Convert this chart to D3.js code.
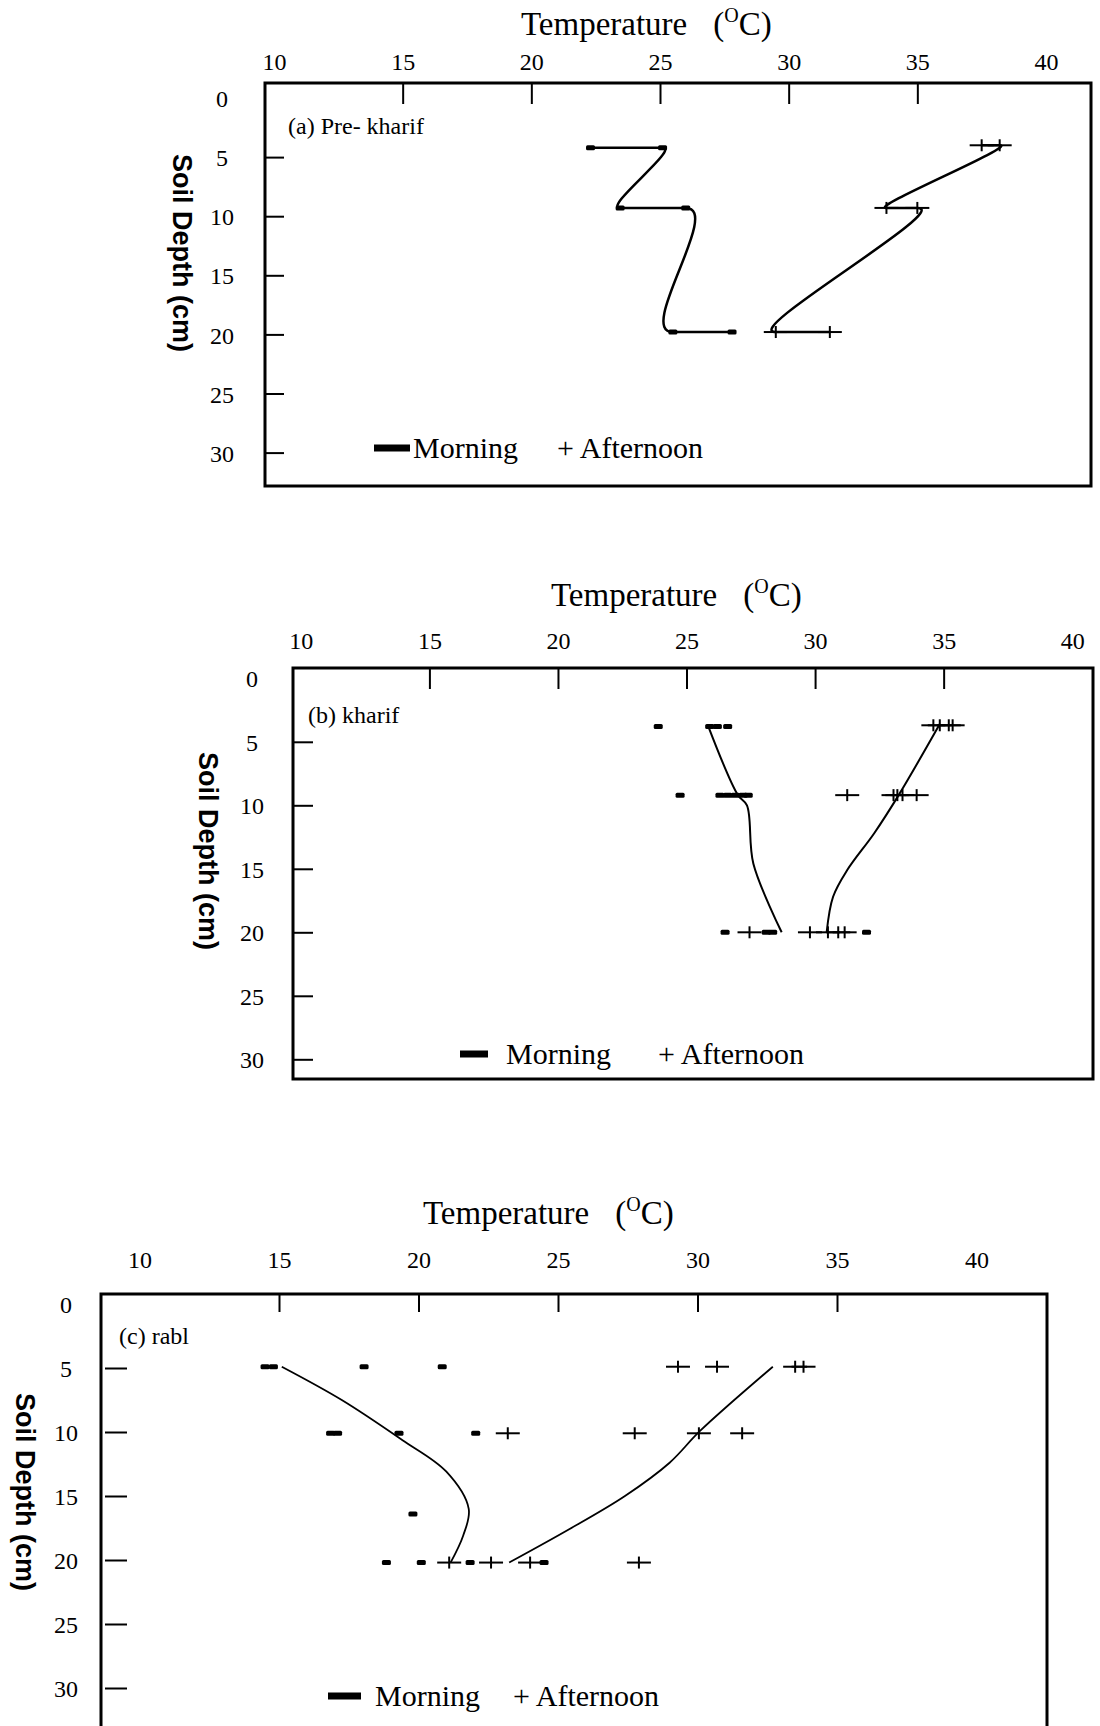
<!DOCTYPE html>
<html>
<head>
<meta charset="utf-8">
<script src="https://cdn.jsdelivr.net/npm/d3@7/dist/d3.min.js"></script>
<style>
  body { margin: 0; background: #fff; }
  svg { display: block; }
</style>
</head>
<body>
<svg id="chart" width="1100" height="1726"></svg>
<script>
const tempTicks = [10, 15, 20, 25, 30, 35, 40];
const depthTicks = [0, 5, 10, 15, 20, 25, 30];

// (a) Pre-kharif : [temperature, depth]; the curve runs through the points in this order
const preKharifMorning = [[22.3, 4.2], [25.1, 4.2], [23.45, 9.3], [26.0, 9.3], [25.5, 19.8], [27.8, 19.8]];
const preKharifAfternoon = [[37.5, 4.0], [38.2, 4.0], [33.8, 9.3], [35.0, 9.3], [29.5, 19.8], [31.6, 19.8]];

// (b) kharif
const kharifMorning = [
  [23.9, 3.8], [25.9, 3.8], [26.2, 3.8], [26.6, 3.8],
  [24.75, 9.2], [26.3, 9.2], [26.6, 9.2], [26.9, 9.2], [27.2, 9.2], [27.4, 9.2],
  [26.5, 20], [28.1, 20], [28.35, 20], [32.0, 20]
];
const kharifAfternoon = [
  [34.6, 3.7], [34.85, 3.7], [35.2, 3.7], [35.35, 3.7],
  [31.25, 9.2], [33.05, 9.2], [33.2, 9.2], [33.4, 9.2], [33.95, 9.2],
  [27.45, 20], [29.8, 20], [30.5, 20], [30.9, 20], [31.15, 20]
];
const kharifMorningLine = [[25.85, 3.8], [27.0, 9.2], [27.35, 10.0], [27.6, 14.6], [28.7, 20.0]];
const kharifAfternoonLine = [[34.85, 3.6], [33.25, 9.2], [32.3, 12.2], [31.25, 15.1], [30.7, 17.2], [30.45, 20.0]];

// (c) rabi
const rabiMorning = [
  [14.5, 4.9], [14.8, 4.9], [18.05, 4.9], [20.85, 4.9],
  [16.85, 10.1], [17.1, 10.1], [19.3, 10.1], [22.05, 10.1],
  [19.8, 16.4],
  [18.85, 20.2], [20.1, 20.2], [21.85, 20.2], [24.5, 20.2]
];
const rabiAfternoon = [
  [29.3, 4.9], [30.7, 4.9], [33.5, 4.9], [33.8, 4.9],
  [23.2, 10.1], [27.75, 10.1], [30.05, 10.1], [31.6, 10.1],
  [21.1, 20.2], [22.6, 20.2], [24.0, 20.2], [27.9, 20.2]
];
const rabiMorningLine = [[15.1, 4.9], [17.25, 7.5], [19.4, 10.6], [21.0, 13.1], [21.8, 16.0], [21.6, 18.1], [21.15, 20.2]];
const rabiAfternoonLine = [[32.7, 4.9], [30.1, 9.9], [29.0, 12.4], [27.4, 15.0], [25.4, 17.6], [23.25, 20.2]];

const serif = '"Liberation Serif", "Times New Roman", serif';
const sans = '"Liberation Sans", Arial, sans-serif';
const svg = d3.select('#chart');

const panels = [
  {
    label: '(a) Pre- kharif', labelX: 288, labelY: 134,
    box: [265, 83, 1091, 486], xr: [274, 1046], yr: [98, 452.6],
    titleX: 521, titleY: 35, topPad: 13, topTick: 21,
    leftGap: 0, leftTick: 19, leftLabelX: 222,
    ylabX: 173, ylabY: 253,
    legend: { markX: 374, markW: 36, y: 448, morningX: 413, afternoonX: 557 },
    morning: preKharifMorning, afternoon: preKharifAfternoon,
    morningLine: preKharifMorning, afternoonLine: preKharifAfternoon,
    stepped: true, lineW: 2.5
  },
  {
    label: '(b) kharif', labelX: 308, labelY: 723,
    box: [293, 668, 1093, 1079], xr: [300.85, 1072.2], yr: [678.3, 1059.3],
    titleX: 551, titleY: 606, topPad: 19, topTick: 21,
    leftGap: 0, leftTick: 20, leftLabelX: 252,
    ylabX: 199, ylabY: 851,
    legend: { markX: 460, markW: 28, y: 1054, morningX: 506, afternoonX: 658 },
    morning: kharifMorning, afternoon: kharifAfternoon,
    morningLine: kharifMorningLine, afternoonLine: kharifAfternoonLine,
    stepped: false, lineW: 2
  },
  {
    label: '(c) rabl', labelX: 119, labelY: 1344,
    box: [101, 1294, 1047, 1760], xr: [139.5, 976.5], yr: [1304, 1688],
    titleX: 423, titleY: 1224, topPad: 26, topTick: 18,
    leftGap: 4, leftTick: 22, leftLabelX: 66,
    ylabX: 16, ylabY: 1492,
    legend: { markX: 328, markW: 33, y: 1696, morningX: 375, afternoonX: 513 },
    morning: rabiMorning, afternoon: rabiAfternoon,
    morningLine: rabiMorningLine, afternoonLine: rabiAfternoonLine,
    stepped: false, lineW: 1.8
  }
];

// straight runs between readings at the same depth; between depths a bend
// that leaves and arrives level with those runs (gives the S / Z hooks)
function steppedProfile(pts, x, y) {
  const p = pts.map(d => [x(d[0]), y(d[1])]);
  const path = d3.path();
  path.moveTo(p[0][0], p[0][1]);
  for (let i = 0; i < p.length - 1; i++) {
    const a = p[i], b = p[i + 1];
    if (pts[i][1] === pts[i + 1][1]) {
      path.lineTo(b[0], b[1]);
      continue;
    }
    const m = 0.3 * Math.abs(b[1] - a[1]);
    path.bezierCurveTo(a[0] + m, a[1], b[0] - m, b[1], b[0], b[1]);
  }
  return path.toString();
}

function drawPanel(p) {
  const g = svg.append('g');
  const x = d3.scaleLinear().domain([10, 40]).range(p.xr);
  const y = d3.scaleLinear().domain([0, 30]).range(p.yr);
  const [l, t, r, b] = p.box;

  // title
  const title = g.append('text')
    .attr('x', p.titleX).attr('y', p.titleY)
    .attr('font-family', serif).attr('font-size', 33);
  title.append('tspan').text('Temperature');
  title.append('tspan').attr('dx', 26).text('(');
  title.append('tspan').attr('font-size', 20).attr('dy', -13).text('O');
  title.append('tspan').attr('dy', 13).text('C)');

  // frame
  g.append('rect')
    .attr('x', l).attr('y', t).attr('width', r - l).attr('height', b - t)
    .attr('fill', 'none').attr('stroke', '#000').attr('stroke-width', 3);

  // top axis, ticks pointing into the frame
  const top = g.append('g')
    .attr('transform', `translate(0,${t})`)
    .call(d3.axisTop(x).tickValues(tempTicks).tickSize(-p.topTick).tickPadding(p.topPad));
  top.attr('font-family', serif).attr('font-size', 24);
  top.select('.domain').remove();
  top.selectAll('.tick line').filter(d => d === 10 || d === 40).remove();
  top.selectAll('.tick line').attr('stroke-width', 2);

  // left axis
  const left = g.append('g')
    .attr('transform', `translate(${l + p.leftGap},0)`)
    .call(d3.axisLeft(y).tickValues(depthTicks).tickSize(-p.leftTick).tickPadding(0));
  left.attr('font-family', serif).attr('font-size', 24);
  left.select('.domain').remove();
  left.selectAll('.tick line').filter(d => d === 0).remove();
  left.selectAll('.tick line').attr('stroke-width', 2);
  left.selectAll('.tick text')
    .attr('x', p.leftLabelX - l - p.leftGap)
    .attr('text-anchor', 'middle')
    .attr('dy', '0.36em');

  g.append('text')
    .attr('transform', `translate(${p.ylabX},${p.ylabY}) rotate(90)`)
    .attr('text-anchor', 'middle')
    .attr('font-family', sans).attr('font-weight', 'bold').attr('font-size', 27)
    .text('Soil Depth (cm)');

  g.append('text')
    .attr('x', p.labelX).attr('y', p.labelY)
    .attr('font-family', serif).attr('font-size', 24)
    .text(p.label);

  // smoothed profiles
  const line = d3.line()
    .x(d => x(d[0]))
    .y(d => y(d[1]))
    .curve(d3.curveCatmullRom);
  const profile = pts => p.stepped ? steppedProfile(pts, x, y) : line(pts);

  [p.morningLine, p.afternoonLine].forEach(pts => {
    g.append('path')
      .attr('d', profile(pts))
      .attr('fill', 'none').attr('stroke', '#000')
      .attr('stroke-width', p.lineW).attr('stroke-linejoin', 'round');
  });

  // morning: small bars
  g.selectAll('.am').data(p.morning).join('rect')
    .attr('class', 'am')
    .attr('x', d => x(d[0]) - 4.5).attr('y', d => y(d[1]) - 2.5)
    .attr('width', 9).attr('height', 5).attr('rx', 1.5)
    .attr('fill', '#000');

  // afternoon: plus signs
  const plus = g.selectAll('.pm').data(p.afternoon).join('g')
    .attr('class', 'pm')
    .attr('transform', d => `translate(${x(d[0])},${y(d[1])})`)
    .attr('stroke', '#000').attr('stroke-width', 2);
  plus.append('line').attr('x1', -12).attr('x2', 12);
  plus.append('line').attr('y1', -6).attr('y2', 6);

  // legend
  const lg = p.legend;
  g.append('rect')
    .attr('x', lg.markX).attr('y', lg.y - 3.5).attr('width', lg.markW).attr('height', 7)
    .attr('fill', '#000');
  g.append('text')
    .attr('x', lg.morningX).attr('y', lg.y + 10)
    .attr('font-family', serif).attr('font-size', 30)
    .text('Morning');
  g.append('text')
    .attr('x', lg.afternoonX).attr('y', lg.y + 10)
    .attr('font-family', serif).attr('font-size', 30)
    .text('+ Afternoon');
}

panels.forEach(drawPanel);
</script>
</body>
</html>
